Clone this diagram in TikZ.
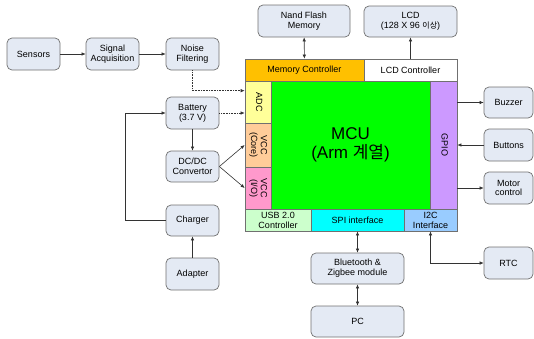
\documentclass[tikz,border=0pt]{standalone}
\usepackage{fontspec}
\setmainfont{Liberation Sans}
\newfontfamily\kr{Noto Sans CJK KR}
\usepackage{graphicx}
\usepackage{xcolor}
\usepackage{tikz}
\usetikzlibrary{arrows.meta,positioning}
\definecolor{boxfill}{HTML}{E4EAF4}
\definecolor{boxline}{HTML}{707070}
\definecolor{memc}{HTML}{FFC000}
\definecolor{adcc}{HTML}{FFFF99}
\definecolor{corec}{HTML}{FFCC99}
\definecolor{ioc}{HTML}{FF99CC}
\definecolor{gpioc}{HTML}{CC99FF}
\definecolor{usbc}{HTML}{CCFFCC}
\definecolor{spic}{HTML}{00FFFF}
\definecolor{i2cc}{HTML}{99CCFF}
\newcommand{\vtext}[1]{\rotatebox{-90}{\begin{tabular}{@{}c@{}}#1\end{tabular}}}

\begin{document}
\begin{tikzpicture}[x=1pt,y=-1pt,
    font=\fontsize{9}{9.8}\selectfont,
    blk/.style={draw=boxline,fill=boxfill,rounded corners=5pt,line width=0.7pt,
      inner sep=0pt,align=center,minimum width=53pt,minimum height=32pt},
    part/.style={draw=boxline,line width=0.7pt,inner sep=0pt,align=center},
    con/.style={draw=black!80,line width=0.6pt,-{Latex[length=4pt,width=3.5pt]}},
    bicon/.style={con,{Latex[length=4pt,width=3.5pt]}-{Latex[length=4pt,width=3.5pt]}},
    dcon/.style={con,densely dotted}]
  \useasboundingbox (0,0) rectangle (534,338);

  \node[blk] (sens) at (33.5,54) {Sensors};
  \node[blk] (sig) at (112.5,54) {Signal\\Acquisition};
  \node[blk] (noise) at (192.5,54) {Noise\\Filtering};
  \node[blk] (batt) at (192.5,113) {Battery\\(3.7 V)};
  \node[blk,minimum height=31pt] (dcdc) at (192.5,166.5) {DC/DC\\Convertor};
  \node[blk,minimum height=31pt] (chg) at (192.5,220.5) {Charger};
  \node[blk] (adp) at (192.5,274) {Adapter};
  \node[blk,minimum width=92pt] (nand) at (304,21) {Nand Flash\\Memory};
  \node[blk,minimum width=93pt,minimum height=31pt] (lcd) at (410.5,21.5) {LCD\\(128 X 96 {\kr\fontsize{8}{9.8}\selectfont 이상})};
  \node[blk,minimum width=49pt,minimum height=31pt] (buz) at (508.5,102.5) {Buzzer};
  \node[blk,minimum width=49pt] (btn) at (508.5,145) {Buttons};
  \node[blk,minimum width=49pt] (motor) at (508.5,188) {Motor\\control};
  \node[blk,minimum width=49pt] (rtc) at (508.5,263) {RTC};
  \node[blk,minimum width=93pt,minimum height=31pt] (bt) at (357.5,268.5) {Bluetooth \&\\Zigbee module};
  \node[blk,minimum width=93pt,minimum height=31pt] (pc) at (357.5,321.5) {PC};

  \node[part,fill=memc,minimum width=119pt,minimum height=22pt] (memctl) at (304.5,70) {Memory Controller};
  \node[part,fill=white,minimum width=93pt,minimum height=22pt] (lcdctl) at (410.5,70) {LCD Controller};
  \node[part,fill=adcc,minimum width=26pt,minimum height=42pt] (adc) at (258,102) {\vtext{ADC}};
  \node[part,fill=corec,minimum width=26pt,minimum height=44pt] (core) at (258,145) {\vtext{VCC\\(Core)}};
  \node[part,fill=ioc,minimum width=26pt,minimum height=42pt] (vio) at (258,188) {\vtext{VCC\\(I/O)}};
  \node[part,fill=green,minimum width=159pt,minimum height=128pt,
    font=\fontsize{17}{19}\selectfont] (mcu) at (350.5,145) {MCU\\(Arm {\kr 계열})};
  \node[part,fill=gpioc,minimum width=27pt,minimum height=128pt] (gpio) at (443.5,145) {\vtext{GPIO}};
  \node[part,fill=usbc,minimum width=66pt,minimum height=22pt] (usb) at (278,220) {USB 2.0\\Controller};
  \node[part,fill=spic,minimum width=93pt,minimum height=22pt] (spi) at (357.5,220) {SPI interface};
  \node[part,fill=i2cc,minimum width=53pt,minimum height=22pt] (i2c) at (430.5,220) {I2C\\Interface};

  \draw[con] (sens) -- (sig);
  \draw[con] (sig) -- (noise);
  \draw[dcon] (noise.south) |- ([yshift=-10pt]adc.north west);
  \draw[dcon] (batt.east) -- (batt.east -| adc.west);
  \draw[con] (batt) -- (dcdc);
  \draw[con] (dcdc.east) -- (core.west);
  \draw[con] (dcdc.east) -- (vio.west);
  \draw[con] (chg.west) -- ++(-40,0) |- (batt.west);
  \draw[con] (adp) -- (chg);
  \draw[bicon] (nand) -- (memctl);
  \draw[con] (lcdctl) -- (lcd);
  \draw[con] (gpio.east |- buz) -- (buz.west);
  \draw[con] (btn.west) -- (gpio.east |- btn);
  \draw[con] (gpio.east |- motor) -- (motor.west);
  \draw[bicon] (spi) -- (bt);
  \draw[bicon] (bt) -- (pc);
  \draw[bicon] (i2c.south) |- (rtc.west);
\end{tikzpicture}
\end{document}
